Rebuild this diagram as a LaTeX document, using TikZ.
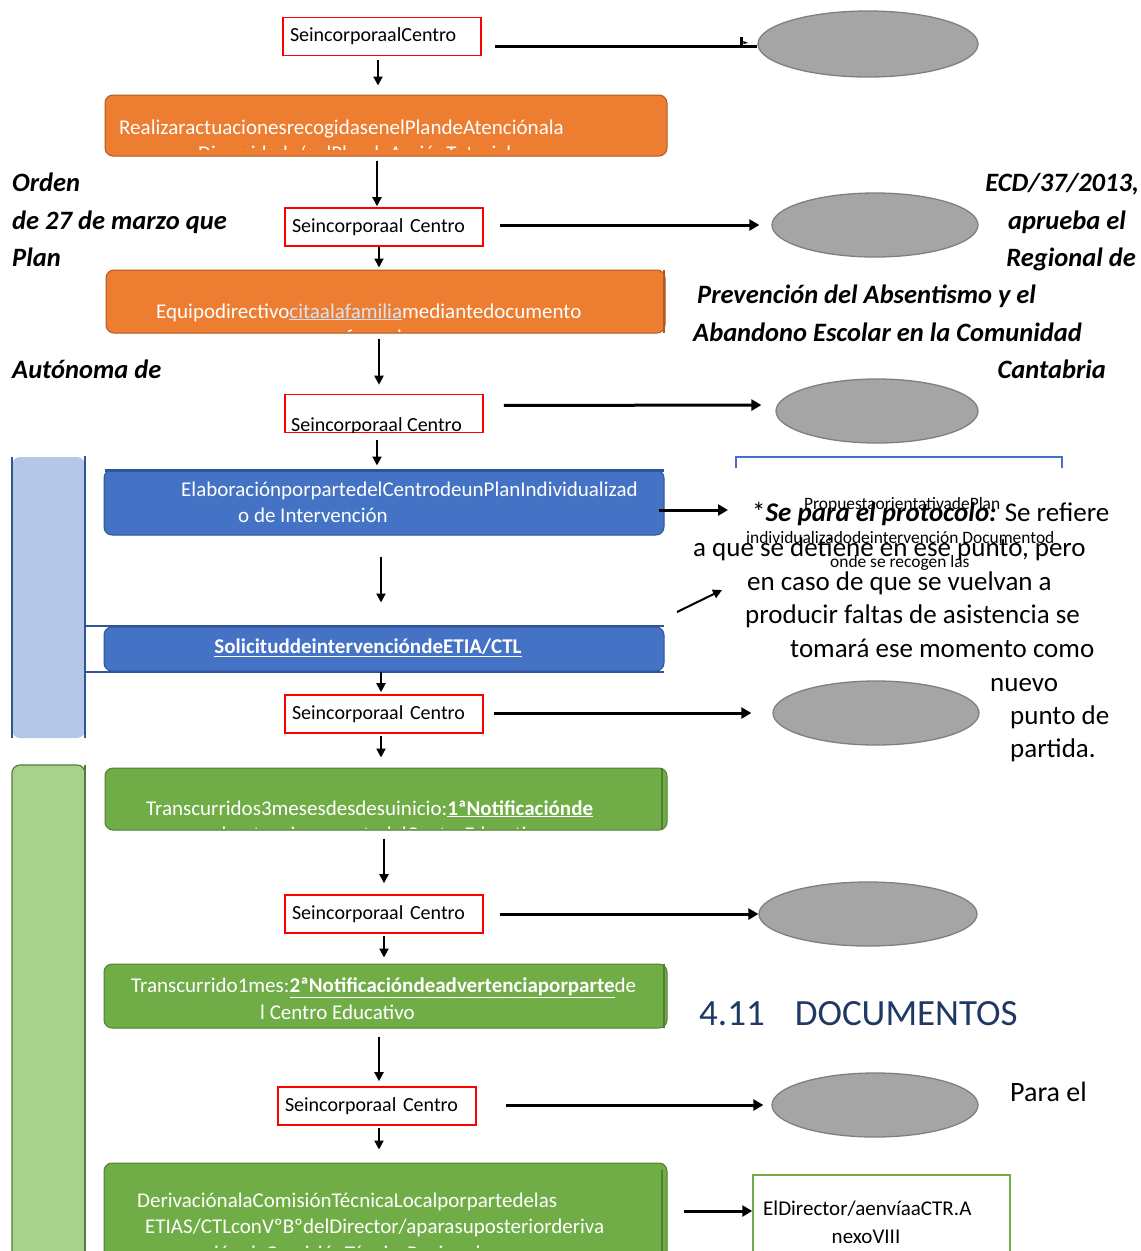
\documentclass[tikz,border=0pt]{standalone}
\usepackage{fontspec}
\setmainfont{Carlito}
\usetikzlibrary{shapes.geometric,arrows.meta}
\definecolor{ofill}{HTML}{ED7D31}
\definecolor{obord}{HTML}{AE5A21}
\definecolor{bfill}{HTML}{4472C4}
\definecolor{bbord}{HTML}{2F5597}
\definecolor{gfill}{HTML}{70AD47}
\definecolor{gbord}{HTML}{507E32}
\definecolor{lbfill}{HTML}{B4C7E7}
\definecolor{lgfill}{HTML}{A9D18E}
\definecolor{efill}{HTML}{A5A5A5}
\definecolor{ebord}{HTML}{7F7F7F}
\definecolor{navy}{HTML}{1F3864}
\definecolor{linkc}{HTML}{DAE3F3}
\begin{document}
\begin{tikzpicture}[x=1pt,y=-1pt,
  redbox/.style={draw=red, line width=1.6pt, fill=white, minimum width=198pt, minimum height=38pt,
    inner sep=0pt, text width=184pt, align=left, font=\fontsize{20}{22}\selectfont},
  ell/.style={ellipse, draw=ebord, line width=1.3pt, fill=efill, inner sep=0pt},
  procbox/.style={rounded corners=8pt, line width=1pt, inner sep=0pt},
  wtext/.style={text=white, inner sep=0pt, font=\fontsize{21}{24}\selectfont},
  btext/.style={inner sep=0pt, font=\fontsize{26.5}{30}\selectfont\bfseries\itshape},
  ntext/.style={inner sep=0pt, font=\fontsize{27}{30}\selectfont},
  stext/.style={inner sep=0pt, font=\fontsize{17.4}{20}\selectfont},
  varr/.style={-{Triangle[length=9pt,width=9pt]}, line width=2pt},
  harr/.style={-{Triangle[length=10pt,width=11pt]}, line width=3pt}]
\useasboundingbox (0,0) rectangle (1141,1251);
\fill[white] (0,0) rectangle (1141,1251);

% column helpers
\coordinate (colA) at (378,0);
\coordinate (colB) at (381,0);
\coordinate (colC) at (384,0);
\coordinate (colD) at (379,0);
\coordinate (colE) at (377,0);

% left panels
\fill[lbfill, rounded corners=8pt] (12,457) rectangle (85,738);
\draw[bbord, line width=2pt] (12,457) -- (12,738);
\draw[bbord, line width=2pt] (85,456) -- (85,738);
\draw[gbord, line width=1.2pt, fill=lgfill, rounded corners=8pt] (12,1270) -- (12,765) -- (85,765) -- (85,1270);
\draw[gbord, line width=2pt] (85,765) -- (85,1251);

% red boxes
\node[redbox] (r1) at (382,36.5) {SeincorporaalCentro};
\node[redbox] (r2) at (384,227) {Seincorporaal Centro};
\node[redbox] (r3) at (384,413.5) {};
\begin{scope}
  \clip (285,395) rectangle (483,432.5);
  \node[inner sep=0pt, anchor=base west, font=\fontsize{20}{22}\selectfont] (r3t) at (291,431) {Seincorporaal Centro};
\end{scope}
\node[redbox] (r4) at (384,714) {Seincorporaal Centro};
\node[redbox] (r5) at (384,914) {Seincorporaal Centro};
\node[redbox] (r6) at (377,1106) {Seincorporaal Centro};

% ellipses
\node[ell, minimum width=220pt, minimum height=66pt] (e1) at (868,44) {};
\node[ell, minimum width=206pt, minimum height=64pt] (e2) at (875,225) {};
\node[ell, minimum width=202pt, minimum height=64pt] (e3) at (877,411) {};
\node[ell, minimum width=206pt, minimum height=64pt] (e4) at (876,713) {};
\node[ell, minimum width=218pt, minimum height=64pt] (e5) at (868,914) {};
\node[ell, minimum width=206pt, minimum height=64pt] (e6) at (875,1105) {};

% orange boxes
\node[procbox, fill=ofill, draw=obord, minimum width=562pt, minimum height=61pt] (o1) at (386,125.5) {};
\begin{scope}
  \clip (105,95) rectangle (667,149);
  \node[wtext, anchor=base west] (o1a) at (119,134) {RealizaractuacionesrecogidasenelPlandeAtenciónala};
  \node[wtext, anchor=base west] (o1b) at (198,160) {Diversidady/oelPlandeAcciónTutorial};
\end{scope}
\node[procbox, fill=ofill, draw=obord, minimum width=559pt, minimum height=63pt] (o2) at (385.5,301.5) {};
\draw[obord, line width=2.5pt] (664,270) -- (664,333);
\begin{scope}
  \clip (106,270) rectangle (662,331);
  \node[wtext, anchor=base west] (o2a) at (156,318) {Equipodirectivo\textcolor{linkc}{\underline{citaalafamilia}}mediantedocumento};
  \node[wtext, anchor=base] (o2b) at (374,344) {formal};
\end{scope}

% blue boxes
\node[procbox, fill=bfill, draw=bbord, minimum width=560pt, minimum height=65pt] (b1) at (384,502.5) {};
\draw[bbord, line width=3pt] (105,470) -- (664,470);
\node[wtext, anchor=base west] (b1a) at (181,496) {ElaboraciónporpartedelCentrodeunPlanIndividualizad};
\node[wtext, anchor=base west] (b1b) at (238,522) {o de Intervención};
\draw[bbord, line width=2.5pt] (85,626) -- (664,626);
\draw[bbord, line width=2.5pt] (85,672) -- (664,672);
\node[procbox, fill=bfill, draw=bbord, minimum width=560pt, minimum height=44pt] (b2) at (384,649) {};
\node[wtext, font=\fontsize{21}{24}\selectfont\bfseries] (b2t) at (368,648) {\underline{SolicituddeintervencióndeETIA/CTL}};

% green boxes
\node[procbox, fill=gfill, draw=gbord, minimum width=562pt, minimum height=62pt] (g1) at (386,799) {};
\draw[gbord, line width=2.5pt] (662,768) -- (662,830);
\begin{scope}
  \clip (105,768) rectangle (661,828);
  \node[wtext, anchor=base west] (g1a) at (146,815) {Transcurridos3mesesdesdesuinicio:\textbf{\underline{1ªNotificaciónde}}};
  \node[wtext, anchor=base west] (g1b) at (205,841) {advertenciaporpartedelCentroEducativo};
\end{scope}
\node[procbox, fill=gfill, draw=gbord, minimum width=563pt, minimum height=64pt] (g2) at (385.5,996) {};
\draw[gbord, line width=2.5pt] (664,964) -- (664,1028);
\node[wtext, anchor=base west] (g2a) at (131,992) {Transcurrido1mes:\textbf{\underline{2ªNotificacióndeadvertenciaporparte}}de};
\node[wtext, anchor=base west] (g2b) at (260,1019) {l Centro Educativo};
\node[procbox, fill=gfill, draw=gbord, minimum width=563pt, minimum height=110pt] (g3) at (385.5,1218) {};
\draw[gbord, line width=2.5pt] (662,1170) -- (662,1251);
\begin{scope}
  \clip (104,1163) rectangle (660,1247);
  \node[wtext, anchor=base west] (g3a) at (137,1207) {DerivaciónalaComisiónTécnicaLocalporpartedelas};
  \node[wtext, anchor=base west] (g3b) at (145,1233) {ETIAS/CTLconVºBºdelDirector/aparasuposteriorderiva};
  \node[wtext, anchor=base west] (g3c) at (205,1260) {ciónalaComisiónTécnicaRegional};
\end{scope}

% document box
\node[draw=gfill, line width=1.5pt, fill=white, minimum width=257pt, minimum height=100pt, inner sep=0pt] (dbox) at (881.5,1225) {};
\node[inner sep=0pt, anchor=base west, font=\fontsize{21}{24}\selectfont] (d1) at (763,1215) {ElDirector/aenvíaaCTR.A};
\node[inner sep=0pt, anchor=base, font=\fontsize{21}{24}\selectfont] (d2) at (866,1243) {nexoVIII};

% vertical arrows
\draw[varr, shorten <=4pt, shorten >=9pt] (r1.south -| colA) -- (o1.north -| colA);
\draw[varr, shorten <=4pt, shorten >=1pt] (o1.south -| colE) -- (r2.north -| colE);
\draw[varr, shorten <=0pt, shorten >=2pt] (r2.south -| colD) -- (o2.north -| colD);
\draw[varr, shorten <=5pt, shorten >=9pt] (o2.south -| colD) -- (r3.north -| colD);
\draw[varr, shorten <=7pt, shorten >=4pt] (r3.south -| colE) -- (b1.north -| colE);
\draw[varr, shorten <=21pt, shorten >=24pt] (b1.south -| colB) -- (b2.north -| colB);
\draw[varr, shorten <=0pt, shorten >=2pt] (b2.south -| colB) -- (r4.north -| colB);
\draw[varr, shorten <=2pt, shorten >=10pt] (r4.south -| colB) -- (g1.north -| colB);
\draw[varr, shorten <=8pt, shorten >=11pt] (g1.south -| colC) -- (r5.north -| colC);
\draw[varr, shorten <=2pt, shorten >=6pt] (r5.south -| colC) -- (g2.north -| colC);
\draw[varr, shorten <=8pt, shorten >=5pt] (g2.south -| colD) -- (r6.north -| colD);
\draw[varr, shorten <=2pt, shorten >=13pt] (r6.south -| colD) -- (g3.north -| colD);

% horizontal arrows
\draw[line width=3pt, shorten <=13pt] ([yshift=-9.5pt]r1.east) -- ([yshift=-2pt]e1.west);
\fill ([xshift=-17pt,yshift=7pt]e1.west) rectangle ([xshift=-14pt,yshift=-1pt]e1.west);
\fill ([xshift=-14pt,yshift=3pt]e1.west) -- ([xshift=-9pt,yshift=1pt]e1.west) -- ([xshift=-14pt,yshift=0pt]e1.west) -- cycle;
\draw[harr, shorten <=16pt, shorten >=12pt] (r2.east |- e2.west) -- (e2.west);
\draw[harr, shorten <=20pt, shorten >=14pt] ([yshift=8pt]r3.east) -- ([yshift=6pt]e3.west);
\draw[harr, shorten <=10pt, shorten >=21pt] (r4.east |- e4.west) -- (e4.west);
\draw[harr, shorten <=16pt, shorten >=0pt] (r5.east |- e5.west) -- (e5.west);
\draw[harr, shorten <=29pt, shorten >=8pt] (r6.east |- e6.west) -- (e6.west);
\coordinate (n1) at (728,510);
\draw[harr, shorten <=-6pt] (b1.east |- n1) -- (n1);
\coordinate (d1s) at (677,612);
\coordinate (d1e) at (722,590);
\draw[-{Triangle[length=9pt,width=9pt]}, line width=2pt] (d1s) -- (d1e);
\coordinate (dy) at (0,1211);
\draw[harr, shorten <=16pt] (g3.east |- dy) -- (dbox.west |- dy);

% bracket
\draw[bfill, line width=1.5pt] (736,468) -- (736,457) -- (1062,457) -- (1062,468);

% side texts (bold italic)
\node[btext, anchor=base west] (t1) at (12,191) {Orden};
\node[btext, anchor=base west] (t2) at (12,229) {de 27 de marzo que};
\node[btext, anchor=base west] (t3) at (12,266) {Plan};
\node[btext, anchor=base west] (t4) at (12,378) {Autónoma de};
\node[btext, anchor=base east] (t5) at (1139,191) {ECD/37/2013,};
\node[btext, anchor=base east] (t6) at (1126,229) {aprueba el};
\node[btext, anchor=base east] (t7) at (1136,266) {Regional de};
\node[btext, anchor=base west] (t8) at (697,303) {Prevención del Absentismo y el};
\node[btext, anchor=base west] (t9) at (693,341) {Abandono Escolar en la Comunidad};
\node[btext, anchor=base east] (t10) at (1106,378) {Cantabria};

% overlapping small text
\node[stext, anchor=base west] (s1) at (804,509) {PropuestaorientativadePlan};
\node[stext, anchor=base west] (s2) at (746,543) {individualizadodeintervención Documentod};
\node[stext, anchor=base west] (s3) at (830,567) {onde se recogen las};

% note
\node[ntext, anchor=base west] (n1t) at (752,521) {*\textbf{\textit{Se para el protocolo:}} Se refiere};
\node[ntext, anchor=base west] (n2t) at (693,556) {a que se detiene en ese punto, pero};
\node[ntext, anchor=base west] (n3t) at (747,590) {en caso de que se vuelvan a};
\node[ntext, anchor=base west] (n4t) at (745,623) {producir faltas de asistencia se};
\node[ntext, anchor=base west] (n5t) at (790,657) {tomará ese momento como};
\node[ntext, anchor=base west] (n6t) at (990,691) {nuevo};
\node[ntext, anchor=base west] (n7t) at (1010,724) {punto de};
\node[ntext, anchor=base west] (n8t) at (1010,757) {partida.};

% heading
\node[inner sep=0pt, anchor=base west, text=navy, font=\fontsize{37}{40}\selectfont] (h1) at (699,1025) {4.11\hspace{30pt}DOCUMENTOS};
\node[inner sep=0pt, anchor=base west, font=\fontsize{28}{32}\selectfont] (p1) at (1010,1101) {Para el};
\end{tikzpicture}
\end{document}
